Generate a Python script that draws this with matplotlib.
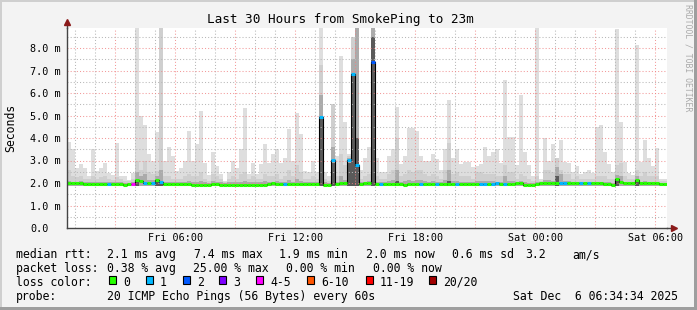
import datetime as dt

import numpy as np
import pandas as pd
import matplotlib
matplotlib.use('Agg')
from matplotlib import pyplot as plt
import matplotlib.dates as mdates
from matplotlib.patches import Rectangle

# ---- data (values in ms), one entry per 12 minute step ----
start = dt.datetime(2025, 12, 5, 0, 34, 34)
end = dt.datetime(2025, 12, 6, 6, 34, 34)
step_min = 12

smoke_max = [
    3.84, 3.5, 2.65, 2.85, 2.65, 2.3, 3.5, 2.55, 2.65, 2.9,
    2.45, 2.35, 3.8, 2.3, 2.3, 2.15, 2.45, 8.9, 5.0, 4.6,
    3.3, 3.0, 4.28, 8.9, 3.0, 3.6, 3.2, 2.55, 2.65, 3.0,
    4.3, 3.0, 3.75, 5.2, 2.9, 2.35, 3.4, 2.75, 2.4, 2.1,
    2.5, 3.0, 2.65, 3.5, 5.35, 2.4, 2.9, 2.4, 2.85, 3.75,
    2.9, 3.3, 3.5, 2.9, 3.1, 4.4, 3.0, 5.1, 4.2, 2.55,
    2.5, 3.0, 2.5, 8.9, 2.5, 2.3, 5.5, 3.2, 7.64, 4.7,
    3.3, 8.5, 8.9, 2.6, 3.1, 3.6, 8.9, 3.1, 2.5, 2.5,
    3.2, 3.5, 5.4, 2.85, 3.2, 4.45, 4.45, 4.3, 3.2, 3.0,
    3.0, 3.3, 3.05, 2.6, 3.5, 5.7, 3.1, 3.5, 2.85, 2.95,
    2.95, 2.7, 2.75, 2.85, 3.6, 3.2, 3.4, 3.5, 2.9, 6.58,
    4.05, 4.05, 2.8, 5.9, 3.4, 2.8, 2.3, 8.9, 2.2, 4.0,
    3.0, 3.75, 3.1, 3.9, 2.95, 2.9, 2.5, 2.75, 2.4, 2.5,
    2.6, 2.45, 4.5, 4.57, 3.4, 2.85, 2.5, 8.85, 4.7, 2.95,
    2.45, 2.35, 8.13, 2.95, 3.9, 3.1, 2.75, 3.55, 2.2, 2.2,
]
smoke_mid = [
    2.6, 2.3, 2.25, 2.3, 2.2, 2.2, 2.3, 2.2, 2.25, 2.3,
    2.2, 2.15, 2.25, 2.2, 2.1, 2.1, 2.2, 3.0, 2.6, 3.0,
    2.5, 2.4, 2.55, 8.9, 2.3, 2.3, 2.2, 2.2, 2.2, 2.3,
    2.4, 2.3, 2.3, 2.5, 2.2, 2.1, 2.4, 2.3, 2.2, 2.05,
    2.2, 2.3, 2.2, 2.4, 2.5, 2.2, 2.3, 2.2, 2.2, 2.4,
    2.3, 2.3, 2.4, 2.2, 2.3, 2.6, 2.3, 2.8, 2.5, 2.2,
    2.2, 2.3, 2.2, 7.24, 2.2, 2.1, 5.5, 2.3, 3.3, 2.8,
    3.2, 8.5, 8.9, 2.2, 2.3, 2.4, 8.9, 2.3, 2.2, 2.2,
    2.4, 2.6, 4.0, 2.3, 2.4, 2.6, 2.5, 2.6, 2.6, 2.4,
    2.3, 2.4, 2.3, 2.2, 2.6, 3.8, 2.4, 2.5, 2.3, 2.3,
    2.3, 2.2, 2.5, 2.5, 2.4, 2.4, 2.4, 2.3, 2.3, 2.8,
    2.5, 2.5, 2.2, 2.4, 2.3, 2.2, 2.1, 2.3, 2.1, 2.6,
    2.6, 2.5, 3.1, 2.6, 2.4, 2.4, 2.2, 2.3, 2.2, 2.2,
    2.2, 2.2, 2.3, 2.3, 2.3, 2.2, 2.2, 2.8, 2.9, 2.3,
    2.2, 2.2, 2.6, 2.3, 2.5, 2.3, 2.3, 2.3, 2.1, 2.1,
]
smoke_dark = [
    2.1, 2.06, 2.06, 2.1, 2.06, 2.04, 2.06, 2.04, 2.06, 2.06,
    2.04, 2.04, 2.06, 2.04, 2.02, 2.02, 2.06, 2.5, 2.3, 2.4,
    2.15, 2.15, 2.3, 2.6, 2.06, 2.06, 2.04, 2.04, 2.04, 2.06,
    2.1, 2.06, 2.06, 2.1, 2.04, 2.02, 2.1, 2.06, 2.04, 2.0,
    2.04, 2.06, 2.04, 2.06, 2.1, 2.04, 2.06, 2.04, 2.04, 2.1,
    2.06, 2.06, 2.1, 2.04, 2.06, 2.15, 2.06, 2.2, 2.1, 2.04,
    2.04, 2.06, 2.04, 5.9, 2.04, 2.0, 3.6, 2.06, 2.3, 2.15,
    3.1, 7.5, 8.9, 2.04, 2.06, 2.1, 8.9, 2.06, 2.04, 2.04,
    2.1, 2.15, 2.6, 2.06, 2.1, 2.15, 2.1, 2.15, 2.15, 2.1,
    2.06, 2.1, 2.06, 2.04, 2.15, 2.6, 2.1, 2.1, 2.06, 2.06,
    2.06, 2.04, 2.1, 2.1, 2.1, 2.1, 2.1, 2.06, 2.06, 2.3,
    2.1, 2.1, 2.04, 2.1, 2.04, 2.02, 2.0, 2.06, 2.04, 2.15,
    2.15, 2.1, 2.7, 2.4, 2.1, 2.1, 2.04, 2.06, 2.04, 2.04,
    2.04, 2.04, 2.06, 2.06, 2.06, 2.04, 2.02, 2.35, 2.3, 2.06,
    2.04, 2.04, 2.3, 2.06, 2.1, 2.06, 2.06, 2.06, 2.02, 2.02,
]
smoke_core = [
    1.88, 1.88, 1.88, 1.88, 1.88, 1.88, 1.88, 1.88, 1.88, 1.88,
    1.88, 1.88, 1.88, 1.88, 1.88, 1.88, 1.88, 2.1, 1.88, 1.88,
    1.88, 1.88, 2.05, 2.1, 1.88, 1.88, 1.88, 1.88, 1.88, 1.88,
    1.88, 1.88, 1.88, 1.88, 1.88, 1.88, 1.88, 1.88, 1.88, 1.88,
    1.88, 1.88, 1.88, 1.88, 1.88, 1.88, 1.88, 1.88, 1.88, 1.88,
    1.88, 1.88, 1.88, 1.88, 1.88, 1.88, 1.88, 1.88, 1.88, 1.88,
    1.88, 1.88, 1.88, 4.9, 1.88, 1.88, 2.9, 1.88, 1.88, 1.88,
    2.9, 6.8, 4.0, 1.88, 1.88, 1.88, 8.5, 1.88, 1.88, 1.88,
    1.88, 1.88, 2.1, 1.88, 1.88, 1.88, 1.88, 1.88, 1.88, 1.88,
    1.88, 1.88, 1.88, 1.88, 1.88, 2.1, 1.88, 1.88, 1.88, 1.88,
    1.88, 1.88, 1.88, 1.88, 1.88, 1.88, 1.88, 1.88, 1.88, 1.88,
    1.88, 1.88, 1.88, 1.88, 1.88, 1.88, 1.88, 1.88, 1.88, 1.88,
    1.88, 1.88, 2.3, 1.88, 1.88, 1.88, 1.88, 1.88, 1.88, 1.88,
    1.88, 1.88, 1.88, 1.88, 1.88, 1.88, 1.88, 2.1, 1.88, 1.88,
    1.88, 1.88, 2.05, 1.88, 1.88, 1.88, 1.88, 1.88, 1.88, 1.88,
]
median = [
    1.98, 1.98, 1.98, 2.02, 1.97, 1.97, 1.97, 1.97, 1.97, 1.97,
    1.97, 1.97, 1.97, 1.95, 1.93, 1.95, 1.94, 2.14, 2.07, 2.02,
    2.0, 2.0, 2.13, 2.03, 1.96, 1.96, 1.96, 1.96, 1.95, 1.95,
    1.95, 1.93, 1.93, 1.93, 1.93, 1.93, 1.95, 1.95, 1.93, 1.93,
    1.93, 1.93, 1.93, 1.93, 1.93, 1.93, 1.93, 1.93, 1.93, 1.93,
    1.95, 1.98, 1.97, 1.95, 1.95, 1.96, 1.96, 1.96, 1.96, 1.96,
    1.96, 1.96, 1.96, 4.95, 1.92, 1.9, 3.04, 1.97, 2.02, 2.02,
    3.04, 6.84, 2.8, 1.97, 2.0, 2.0, 7.39, 1.97, 1.97, 1.97,
    1.97, 1.97, 1.97, 1.97, 1.92, 1.97, 1.97, 1.97, 1.97, 1.97,
    1.97, 1.97, 1.97, 1.97, 1.97, 1.97, 1.97, 1.97, 1.97, 1.97,
    1.97, 1.97, 1.97, 1.97, 1.97, 1.97, 1.97, 2.0, 1.97, 1.97,
    1.97, 1.97, 1.98, 1.98, 1.92, 1.92, 1.92, 1.95, 1.98, 1.98,
    1.98, 1.98, 2.0, 1.98, 1.98, 1.98, 1.98, 1.98, 1.98, 1.98,
    1.98, 1.98, 1.98, 1.98, 1.96, 1.95, 1.92, 2.16, 2.05, 2.0,
    1.98, 1.98, 2.12, 2.02, 2.0, 2.0, 1.98, 1.98, 1.97, 1.97,
]
# loss category index per step (0 = no loss)
loss = [
    0, 0, 0, 0, 0, 0, 0, 0, 0, 0,
    1, 0, 0, 0, 0, 0, 4, 0, 0, 1,
    0, 1, 0, 1, 0, 0, 0, 0, 0, 0,
    0, 0, 0, 0, 0, 0, 0, 0, 0, 0,
    0, 0, 0, 0, 0, 0, 0, 0, 0, 0,
    0, 0, 0, 0, 1, 0, 0, 0, 0, 0,
    0, 0, 0, 1, 0, 0, 1, 0, 0, 0,
    1, 1, 1, 0, 0, 0, 2, 0, 1, 0,
    0, 0, 0, 0, 0, 0, 0, 0, 1, 0,
    0, 0, 1, 0, 0, 0, 0, 1, 0, 0,
    0, 0, 0, 1, 1, 0, 1, 1, 0, 1,
    0, 0, 0, 0, 0, 0, 0, 0, 0, 0,
    0, 0, 0, 1, 1, 0, 0, 0, 1, 0,
    1, 0, 0, 0, 0, 0, 0, 0, 0, 0,
    0, 0, 0, 0, 0, 0, 0, 0, 0, 0,
]
smoke_floor = 1.88

loss_labels = ['0', '1', '2', '3', '4-5', '6-10', '11-19', '20/20']
loss_colors = ['#26ff00', '#00b8ff', '#0059ff', '#7e00ff',
               '#ff00ff', '#ff5500', '#ff0000', '#a10000']

yticks = [0, 1, 2, 3, 4, 5, 6, 7, 8]
ytick_labels = ['0.0', '1.0 m', '2.0 m', '3.0 m', '4.0 m',
                '5.0 m', '6.0 m', '7.0 m', '8.0 m']

title = 'Last 30 Hours from SmokePing to 23m'
rtt_stats = ['2.1 ms avg', '7.4 ms max', '1.9 ms min', '2.0 ms now',
             '0.6 ms sd', '3.2', 'am/s']
loss_stats = ['0.38 % avg', '25.00 % max', '0.00 % min', '0.00 % now']
probe_text = '20 ICMP Echo Pings (56 Bytes) every 60s'
stamp = 'Sat Dec  6 06:34:34 2025'

# ---- layout ----
W, H = 697, 310
MONO = 'DejaVu Sans Mono'
plt.rcParams['font.family'] = MONO


def fx(px):
    return px / W


def fy(py):
    return 1 - py / H


fig = plt.figure(figsize=(W / 100, H / 100), dpi=100)
fig.patch.set_facecolor('#f3f3f3')

# 3d-ish frame
fig.patches.append(Rectangle((0, fy(2)), 1, 2 / H, transform=fig.transFigure,
                             color='#cfcfcf', lw=0))
fig.patches.append(Rectangle((0, 0), 2 / W, 1, transform=fig.transFigure,
                             color='#cfcfcf', lw=0))
fig.patches.append(Rectangle((0, 0), 1, 3 / H, transform=fig.transFigure,
                             color='#9e9e9e', lw=0))
fig.patches.append(Rectangle((1 - 3 / W, 0), 3 / W, 1, transform=fig.transFigure,
                             color='#9e9e9e', lw=0))

ax = fig.add_axes([fx(67), fy(228), 600 / W, 200 / H])
ax.set_facecolor('white')

times = pd.date_range(start, periods=len(median), freq='%dmin' % step_min)
x = mdates.date2num(times.to_pydatetime())
wd = step_min / 1440.0
ymax = 200 / 22.5

for top, col in [(smoke_max, '#dedede'), (smoke_mid, '#cfcfcf'),
                 (smoke_dark, '#ababab'), (smoke_core, '#5a5a5a')]:
    ax.bar(x, np.array(top) - smoke_floor, width=wd, bottom=smoke_floor,
           align='edge', color=col, linewidth=0, antialiased=False, zorder=2)

# grid
dots = (0, (1, 2))
for h in pd.date_range('2025-12-05 01:00', '2025-12-06 06:00', freq='h'):
    xv = mdates.date2num(h.to_pydatetime())
    if h.hour % 3 == 0:
        ax.axvline(xv, color='#f08080', lw=0.75, ls=dots, alpha=0.8, zorder=3)
    else:
        ax.axvline(xv, color='#b8b8b8', lw=0.75, ls=dots, zorder=3)
for v in np.arange(0.5, ymax, 0.5):
    if v % 1 == 0:
        ax.axhline(v, color='#f08080', lw=0.75, ls=dots, alpha=0.8, zorder=3)
    else:
        ax.axhline(v, color='#b8b8b8', lw=0.75, ls=dots, zorder=3)

# median line
ax.step(np.append(x, x[-1] + wd), np.append(median, median[-1]), where='post',
        color='black', lw=0.8, zorder=4)
ax.hlines(median, x, x + wd, colors=[loss_colors[c] for c in loss], lw=2.2,
          zorder=5, capstyle='butt')

ax.set_xlim(mdates.date2num(start), mdates.date2num(end))
ax.set_ylim(0, ymax)

for s in ['top', 'right']:
    ax.spines[s].set_visible(False)
for s in ['left', 'bottom']:
    ax.spines[s].set_color('#444444')
    ax.spines[s].set_linewidth(1.0)
    ax.spines[s].set_zorder(6)

# axis extensions + arrows
ax.plot([0, 0], [1, 1.025], transform=ax.transAxes, color='#444444', lw=1.0,
        clip_on=False, zorder=6)
ax.plot([1, 1.008], [0, 0], transform=ax.transAxes, color='#444444', lw=1.0,
        clip_on=False, zorder=6)
ax.plot([0], [1.03], marker='^', ms=4, color='#8b1a1a', transform=ax.transAxes,
        clip_on=False, zorder=7)
ax.plot([1.011], [0], marker='>', ms=4, color='#8b1a1a', transform=ax.transAxes,
        clip_on=False, zorder=7)

ax.set_yticks(yticks)
ax.set_yticklabels(ytick_labels, ha='left', fontsize=7.3)
ax.tick_params(axis='y', length=0, pad=26.6)

ax.xaxis.set_major_locator(mdates.HourLocator(byhour=[0, 6, 12, 18]))
ax.xaxis.set_major_formatter(mdates.DateFormatter('%a %H:%M'))
ax.tick_params(axis='x', length=0, pad=3.5, labelsize=7.3)

fig.text(fx(11), fy(127.5), 'Seconds', rotation=90, ha='center', va='center',
         fontsize=8.3)

fig.text(fx(340.5), fy(19.5), title, ha='center', va='center', fontsize=9.1)
fig.text(fx(688), fy(4), 'RRDTOOL / TOBI OETIKER', rotation=270, ha='center',
         va='top', fontsize=5.9, color='#aaaaaa')

# legend
fs = 8.3
b1, b2, b3, b4 = 258.3, 272.3, 285.7, 299.7
fig.text(fx(16), fy(b1), 'median rtt:', fontsize=fs, va='baseline')
for px, s in zip([107, 194, 279.3, 366, 451.7, 525, 572.7], rtt_stats):
    fig.text(fx(px), fy(b1), s, fontsize=fs, va='baseline')

fig.text(fx(16), fy(b2), 'packet loss:', fontsize=fs, va='baseline')
for px, s in zip([107, 192.7, 286, 372.7], loss_stats):
    fig.text(fx(px), fy(b2), s, fontsize=fs, va='baseline')

fig.text(fx(16), fy(b3), 'loss color:', fontsize=fs, va='baseline')
box_x = [109.3, 146, 182.7, 219.3, 256, 307.3, 366, 429.3]
lab_x = [123.3, 160, 196.7, 233.3, 270.7, 321.7, 380, 443.3]
for bx, lx, lab, col in zip(box_x, lab_x, loss_labels, loss_colors):
    fig.patches.append(Rectangle((fx(bx), fy(283.5)), 7 / W, 8 / H,
                                 transform=fig.transFigure, facecolor=col,
                                 edgecolor='black', lw=0.8))
    fig.text(fx(lx), fy(b3), lab, fontsize=fs, va='baseline')

fig.text(fx(16), fy(b4), 'probe:', fontsize=fs, va='baseline')
fig.text(fx(107), fy(b4), probe_text, fontsize=fs, va='baseline')
fig.text(fx(513.3), fy(b4), stamp, fontsize=fs, va='baseline')

fig.savefig('out.png', dpi=100, facecolor=fig.get_facecolor())
